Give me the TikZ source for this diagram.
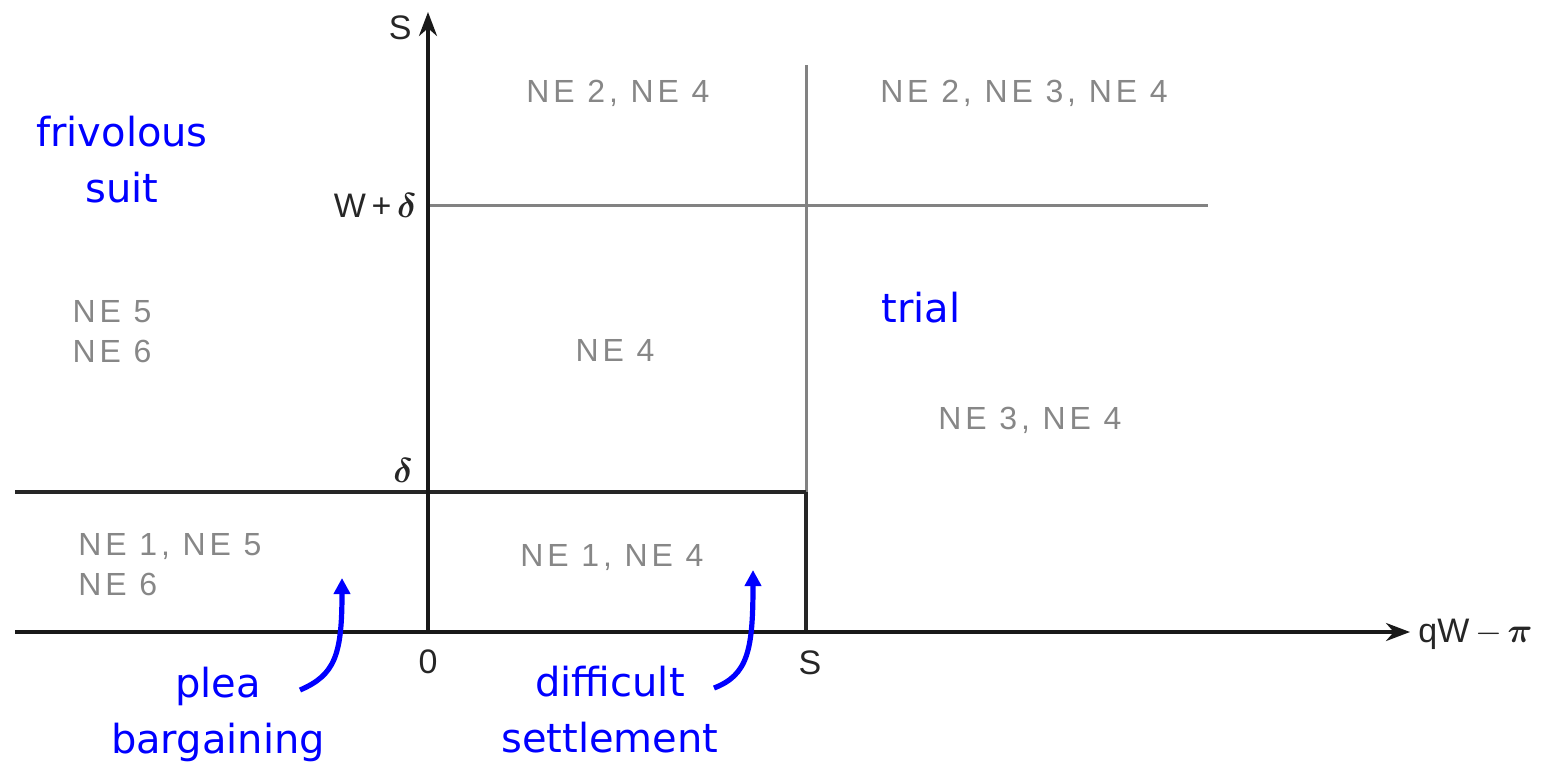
\documentclass[tikz,border=0pt]{standalone}
\usepackage{amsmath}
\usepackage{fontspec}
\setmainfont{Liberation Sans}
\newfontfamily\bluefont{DejaVu Sans}
\newfontfamily\nefont[LetterSpace=12]{Liberation Sans}
\usetikzlibrary{arrows.meta}
\definecolor{negray}{RGB}{135,135,135}
\definecolor{linegray}{RGB}{130,130,130}
\definecolor{myblue}{RGB}{0,0,255}
\tikzset{
  axis/.style={line width=1.8pt, black!90},
  thinline/.style={line width=1.5pt, linegray},
  darkline/.style={line width=1.8pt, black!85},
  ne/.style={text=negray, font=\nefont\fontsize{16}{20}\selectfont, inner sep=0pt, align=left},
  lab/.style={text=black!85, font=\fontsize{17}{20}\selectfont, inner sep=0pt},
  blue/.style={text=myblue, font=\bluefont\fontsize{20}{28}\selectfont, inner sep=0pt, align=center},
  bluearrow/.style={draw=myblue, line width=2.6pt, -{Triangle[length=8pt,width=8pt]}},
}
\begin{document}
\begin{tikzpicture}[x=0.5pt,y=-0.5pt]
\useasboundingbox (0,0) rectangle (1548,767);
% coordinates
\coordinate (O) at (428,632);
\coordinate (ytop) at (428,12);
\coordinate (xleft) at (15,632);
\coordinate (xright) at (1410,632);
\coordinate (wdl) at (428,205);
\coordinate (wdr) at (1208,205);
\coordinate (dl) at (15,492);
\coordinate (dr) at (806,492);
\coordinate (stop) at (806,65);
\coordinate (sbot) at (806,632);
% lines
\draw[thinline] (wdl) -- (wdr);
\draw[thinline] (stop) -- (dr);
\draw[darkline] (dr) -- (sbot);
\draw[darkline] (dl) -- (dr);
\draw[axis, -{Stealth[length=12pt,width=9pt]}] (xleft) -- (xright);
\draw[axis, -{Stealth[length=12pt,width=9pt]}] (O) -- (ytop);
% axis labels
\node[lab, anchor=east] (ylab) at (412,28) {S};
\node[lab, anchor=west] (xlab) at (1418,634) {qW\,$-\,\boldsymbol{\pi}$};
\node[lab, anchor=east] (wdlab) at (417,205) {W\,+\,$\boldsymbol{\delta}$};
\node[lab] (dlab) at (403,470) {$\boldsymbol{\delta}$};
\node[lab] (zero) at (428,662) {0};
\node[lab] (slab) at (810,663) {S};
% NE labels
\node[ne] (r1) at (618,93) {NE 2, NE 4};
\node[ne] (r2) at (1024,93) {NE 2, NE 3, NE 4};
\node[ne] (r3) at (112,332) {NE 5\\NE 6};
\node[ne] (r4) at (615,350) {NE 4};
\node[ne] (r5) at (1030,420) {NE 3, NE 4};
\node[ne, anchor=west] (r6) at (78,565) {NE 1, NE 5\\NE 6};
\node[ne] (r7) at (612,558) {NE 1, NE 4};
% blue labels
\node[blue] (friv) at (122,160) {frivolous\\suit};
\node[blue] (trial) at (921,308) {trial};
\node[blue] (plea) at (218,714) {plea\\bargaining};
\node[blue] (diff) at (610,710) {difficult\\settlement};
% blue arrows
\coordinate (pleatip) at (342,578);
\coordinate (difftip) at (753,570);
\draw[bluearrow] (300,690) .. controls (335,675) and (342,655) .. (pleatip);
\draw[bluearrow] (714,688) .. controls (748,675) and (753,650) .. (difftip);
\end{tikzpicture}
\end{document}
